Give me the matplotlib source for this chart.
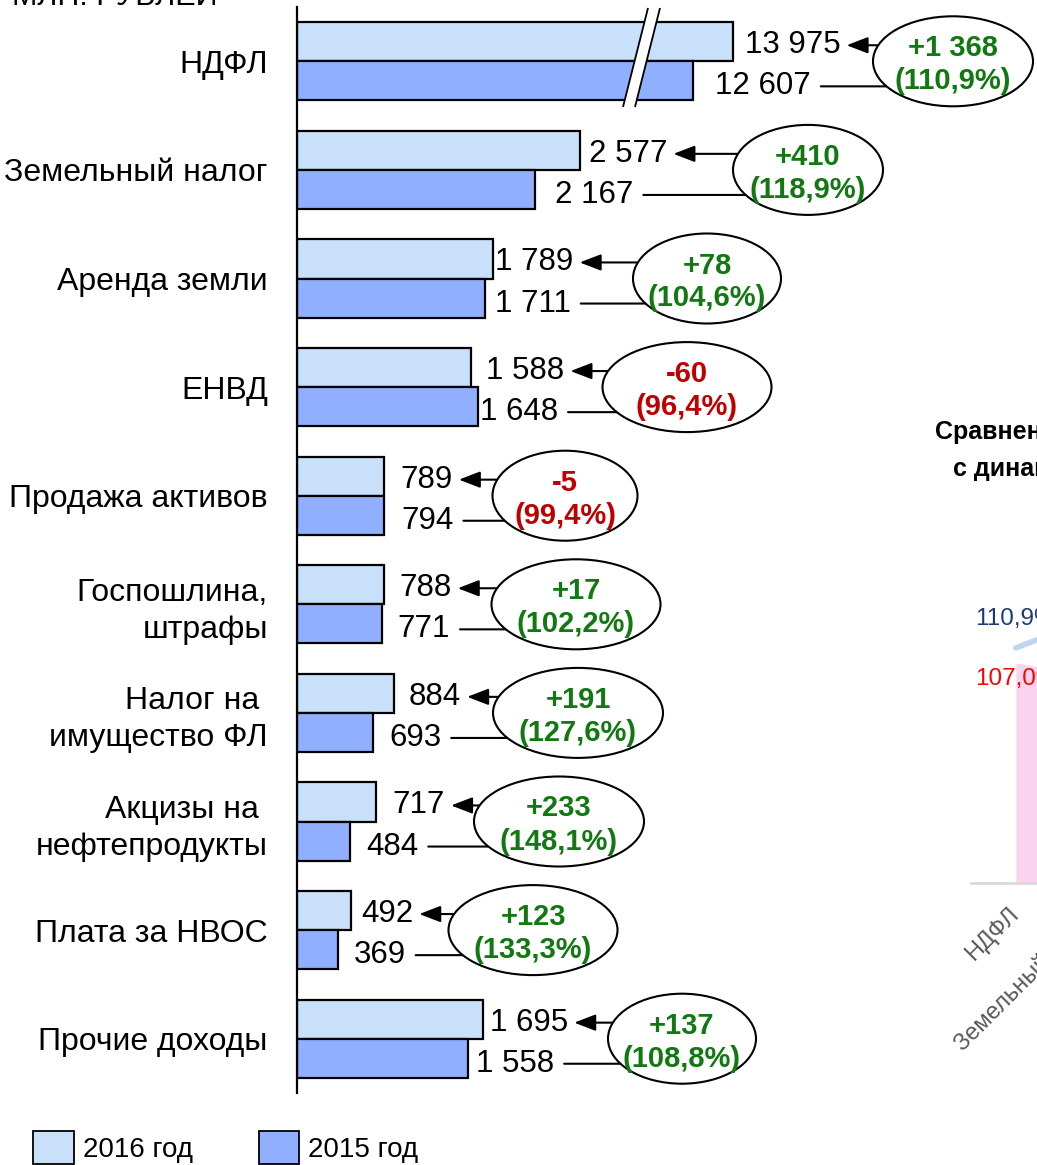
import numpy as np
import matplotlib
matplotlib.use("Agg")
import matplotlib.pyplot as plt
import matplotlib.transforms as mtransforms
from matplotlib.patches import Ellipse, Patch, Polygon

plt.rcParams['font.family'] = ['Liberation Sans', 'DejaVu Sans']

# ---------------- data ----------------
categories = ["НДФЛ", "Земельный налог", "Аренда земли", "ЕНВД", "Продажа активов",
              "Госпошлина,\nштрафы", "Налог на \nимущество ФЛ", "Акцизы на \nнефтепродукты",
              "Плата за НВОС", "Прочие доходы"]
values_2016 = [13975, 2577, 1789, 1588, 789, 788, 884, 717, 492, 1695]
values_2015 = [12607, 2167, 1711, 1648, 794, 771, 693, 484, 369, 1558]
series_labels = ["2016 год", "2015 год"]
unit_label = "МЛН. РУБЛЕЙ"

cmp_categories = ["НДФЛ", "Земельный налог"]
cmp_growth = [110.9, 118.9]
cmp_level = [107.0, 103.5]
cmp_title_1 = "Сравнение"
cmp_title_2 = "с динамикой"

# ---------------- style ----------------
W, H = 1037, 1165
C16 = "#C8E0FA"
C15 = "#90B0FF"
GREEN = "#127812"
RED = "#C00000"
off16 = [12, 9, 2, 15, 17, 16, 15, 17, 10, 7]
off15 = [22, 20, 10, 2, 17, 16, 16, 16, 16, 8]
ell_cx_px = [953, 808, 707, 687, 565, 576, 578, 559, 533, 682]
ell_w_px = [160, 150, 148, 169, 145, 169, 170, 170, 169, 148]
ell_h_px = 90

fig = plt.figure(figsize=(W / 100, H / 100), dpi=100)

AX_L, AX_T, AX_B = 297, 7, 1093
AX_W = 740
ax = fig.add_axes([AX_L / W, (H - AX_B) / H, AX_W / W, (AX_B - AX_T) / H])
ax.patch.set_alpha(0)

# broken scale for the first (large) category
KV = np.array([0.0, 3100.0, 12000.0, 30000.0])
KD = np.array([0.0, 3100.0, 3445.5, 3445.5 + 18000 * 0.266])
fwd = lambda v: np.interp(v, KV, KD)
inv = lambda d: np.interp(d, KD, KV)
ax.set_xscale('function', functions=(fwd, inv))
px_per_unit = 0.1098
ax.set_xlim(0, float(inv(AX_W / px_per_unit)))
ax.set_ylim(len(categories) - 0.5, -0.5)

y = np.arange(len(categories))
bh = 0.36
ax.barh(y - bh / 2, values_2016, height=bh, color=C16, edgecolor="black", linewidth=1.6, zorder=2)
ax.barh(y + bh / 2, values_2015, height=bh, color=C15, edgecolor="black", linewidth=1.6, zorder=2)

for s in ["top", "right", "bottom"]:
    ax.spines[s].set_visible(False)
ax.spines["left"].set_linewidth(1.6)
ax.set_xticks([])
ax.set_yticks(y, categories, fontsize=23)
ax.tick_params(axis="y", length=0, pad=21)
for t in ax.get_yticklabels():
    t.set_linespacing(1.3)

# break marks on the first bars
bt = mtransforms.blended_transform_factory(ax.transAxes, ax.transData)
ytop = -0.5 + 1 / 108.6
ybot = -0.5 + 100 / 108.6
xl_t, xl_b = (648 - AX_L) / AX_W, (623 - AX_L) / AX_W
xr_t, xr_b = (660 - AX_L) / AX_W, (635 - AX_L) / AX_W
ax.add_patch(Polygon([(xl_t, ytop), (xr_t, ytop), (xr_b, ybot), (xl_b, ybot)], closed=True,
                     facecolor="white", edgecolor="none", transform=bt, zorder=3))
ax.plot([xl_t, xl_b], [ytop, ybot], color="black", lw=1.3, transform=bt, zorder=4, solid_capstyle="butt")
ax.plot([xr_t, xr_b], [ytop, ybot], color="black", lw=1.3, transform=bt, zorder=4, solid_capstyle="butt")

fmt = lambda v: f"{v:,}".replace(",", " ")

lab16, lab15 = [], []
for i in range(len(categories)):
    t1 = ax.annotate(fmt(values_2016[i]), xy=(values_2016[i], i - bh / 2), xytext=(off16[i], 0),
                     textcoords="offset pixels", ha="left", va="center_baseline", fontsize=22.5, zorder=5)
    t2 = ax.annotate(fmt(values_2015[i]), xy=(values_2015[i], i + bh / 2), xytext=(off15[i], -2),
                     textcoords="offset pixels", ha="left", va="center_baseline", fontsize=22.5, zorder=5)
    lab16.append(t1)
    lab15.append(t2)

# ellipses with change
ell_h = ell_h_px / 108.6
for i in range(len(categories)):
    d = values_2016[i] - values_2015[i]
    pct = values_2016[i] / values_2015[i] * 100
    col = GREEN if d >= 0 else RED
    cx = (ell_cx_px[i] - AX_L) / AX_W
    ax.add_patch(Ellipse((cx, i), ell_w_px[i] / AX_W, ell_h, transform=bt, facecolor="white",
                         edgecolor="black", linewidth=1.5, zorder=6))
    sign = "+" if d >= 0 else "-"
    ax.annotate(f"{sign}{fmt(abs(d))}", xy=(cx, i), xycoords=bt, xytext=(0, 16), textcoords="offset pixels",
                ha="center", va="center_baseline", fontsize=21, fontweight="bold", color=col, zorder=7)
    ax.annotate(f"({pct:.1f}%)".replace(".", ","), xy=(cx, i), xycoords=bt, xytext=(0, -17),
                textcoords="offset pixels", ha="center", va="center_baseline", fontsize=21,
                fontweight="bold", color=col, zorder=7)

# ---------------- second (cropped) chart ----------------
ax2 = fig.add_axes([971 / W, (H - 883) / H, 170 / W, 386 / H])
ax2.patch.set_alpha(0)
xc = np.arange(len(cmp_categories))
ax2.fill_between(xc, 0, cmp_level, color="#FAD3EF", linewidth=0, zorder=1)
ax2.plot(xc, cmp_growth, color="#BCD6F4", lw=4, solid_capstyle="round", zorder=2)
ax2.set_xlim(-0.56, 1.56)
ax2.set_ylim(50, 150)
for s in ["top", "right", "left"]:
    ax2.spines[s].set_visible(False)
ax2.spines["bottom"].set_color("#D9D9D9")
ax2.spines["bottom"].set_linewidth(2)
ax2.set_yticks([])
ax2.set_xticks(xc, cmp_categories, rotation=45, ha="right", va="center", rotation_mode="anchor",
               fontsize=17, color="#595959")
ax2.tick_params(axis="x", length=0, pad=20)
for xi, g, lv in zip(xc, cmp_growth, cmp_level):
    ax2.annotate(f"{g:.1f}%".replace(".", ","), xy=(xi, g), xytext=(0, 31), textcoords="offset pixels",
                 ha="center", va="center_baseline", fontsize=17.5, color="#1F3A6E")
    ax2.annotate(f"{lv:.1f}%".replace(".", ","), xy=(xi, lv), xytext=(0, -14), textcoords="offset pixels",
                 ha="center", va="center_baseline", fontsize=17.5, color="#FF0000")

fig.text(935 / W, 1 - 429 / H, cmp_title_1, ha="left", va="center_baseline", fontsize=18, fontweight="bold")
fig.text(953 / W, 1 - 466 / H, cmp_title_2, ha="left", va="center_baseline", fontsize=18, fontweight="bold")

# unit label (cropped at top)
fig.text(12 / W, 1 - 5 / H, unit_label, ha="left", va="baseline", fontsize=22)

# legend
handles = [Patch(facecolor=C16, edgecolor="black", linewidth=1.3, label=series_labels[0]),
           Patch(facecolor=C15, edgecolor="black", linewidth=1.3, label=series_labels[1])]
fig.legend(handles=handles, loc="upper left", bbox_to_anchor=(33 / W, 1 - 1131 / H), ncol=2,
           frameon=False, fontsize=20, handlelength=1.47, handleheight=1.47, handletextpad=0.32,
           columnspacing=2.37, borderpad=0, borderaxespad=0)

# arrows / connector lines (need text extents)
fig.canvas.draw()
renderer = fig.canvas.get_renderer()
for i in range(len(categories)):
    ex, ey = bt.transform(((ell_cx_px[i] - AX_L) / AX_W, i))
    a = ell_w_px[i] / 2
    b = ell_h_px / 2
    for lab, val, yy, gap, arrow in ((lab16[i], values_2016[i], i - bh / 2, 6, True),
                                     (lab15[i], values_2015[i], i + bh / 2, 10, False)):
        bb = lab.get_window_extent(renderer)
        ly = (bb.y0 + bb.y1) / 2
        dy = ly - ey
        tail_x = ex - a * np.sqrt(max(0.0, 1 - (dy / b) ** 2))
        tip_x = bb.x1 + gap
        style = "-|>,head_length=0.65,head_width=0.25" if arrow else "-"
        ax.annotate("", xy=(tip_x, ly), xycoords="figure pixels", xytext=(tail_x, ly),
                    textcoords="figure pixels", annotation_clip=False,
                    arrowprops=dict(arrowstyle=style, color="black", lw=1.5, shrinkA=0, shrinkB=0,
                                    mutation_scale=20), zorder=5)

fig.savefig("out.png", dpi=100)
